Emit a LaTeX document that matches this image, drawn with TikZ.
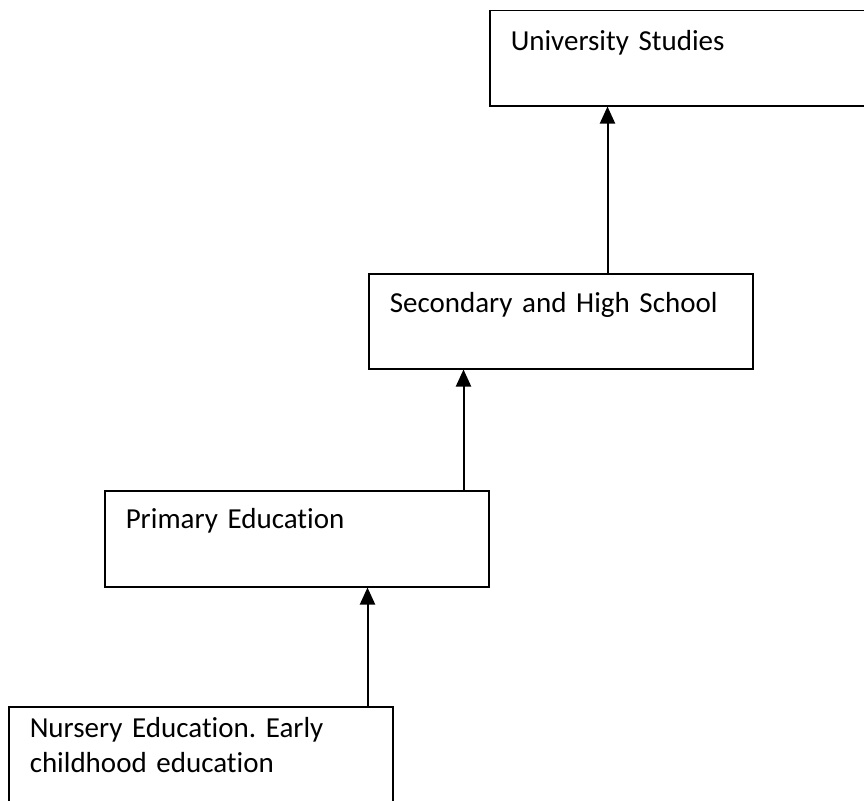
\documentclass[tikz,border=0pt]{standalone}
\usepackage{fontspec}
\setmainfont{Carlito}[Ligatures=NoCommon, WordSpace=0.85]
\usetikzlibrary{arrows.meta}

\begin{document}
\frenchspacing
\begin{tikzpicture}[x=1pt, y=-1pt, >={Triangle[length=17pt,width=15pt]},
			level/.style={draw, line width=1.5pt, anchor=north west, align=left,
				text width=342pt, inner xsep=21pt, inner ysep=0pt,
				font=\fontsize{29}{35}\selectfont},
			up/.style={->, line width=2pt}]
			\useasboundingbox (0,0) rectangle (864,800);
			
			%Niveis (de baixo para cima)
			\node[level, text height=31pt, text depth=75pt] (nur) at (8,706)   {Nursery Education. Early\\childhood education};
			\node[level, text height=38pt, text depth=58pt] (pri) at (104,490) {Primary Education};
			\node[level, text height=39pt, text depth=56pt] (sec) at (368,273) {Secondary and High School};
			\node[level, text height=40pt, text depth=55pt] (uni) at (489,10)  {University Studies};
			
			%Setas:
			\draw[up] ([xshift=-26pt]nur.north east)  -- ([xshift=-26pt]nur.north east |- pri.south);
			\draw[up] ([xshift=-26pt]pri.north east)  -- ([xshift=-26pt]pri.north east |- sec.south);
			\draw[up] ([xshift=-146pt]sec.north east) -- ([xshift=-146pt]sec.north east |- uni.south);
		\end{tikzpicture}
\end{document}
